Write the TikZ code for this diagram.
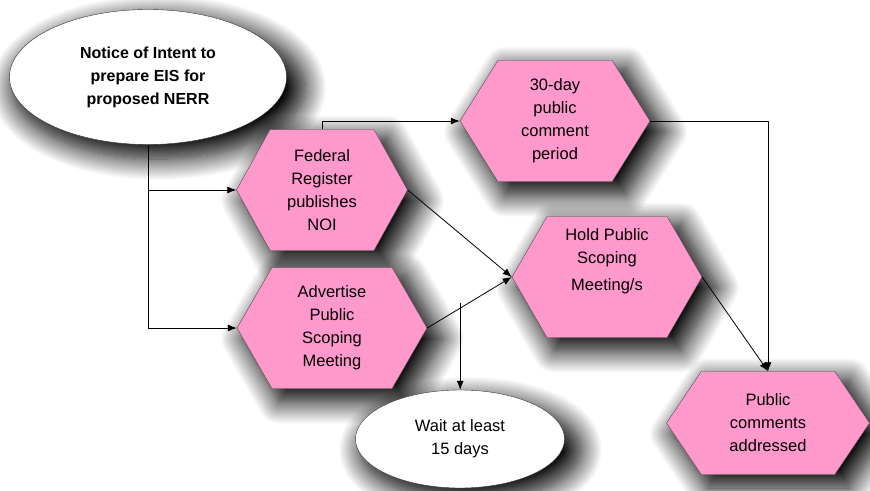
\documentclass[tikz,border=0pt]{standalone}
\usepackage{fontspec}
\setmainfont{Liberation Sans}
\usetikzlibrary{shapes.geometric,shapes.symbols,arrows.meta,shadows.blur}
\definecolor{hexpink}{RGB}{255,153,204}
\begin{document}
\begin{tikzpicture}[x=1pt,y=-1pt,line join=round,>={Latex[length=9pt,width=7pt]},
    font=\fontsize{16.5}{23}\selectfont,
    soft/.style={blur shadow={shadow xshift=10pt,shadow yshift=-10pt,shadow scale=1.06,shadow blur radius=20pt,
        shadow blur steps=20,shadow opacity=100}},
    hexa/.style={shape=signal,signal to=west and east,signal pointer angle=120,draw=black!70,fill=hexpink,
        minimum width=190pt,minimum height=121pt,inner sep=0pt,align=center,soft},
    oval/.style={ellipse,draw=black!80,fill=white,inner sep=0pt,align=center,soft},
    link/.style={->,line width=0.8pt}]
    \useasboundingbox (0,0) rectangle (870,490);
    % start ellipse
    \node[oval,minimum width=277pt,minimum height=135pt,font=\fontsize{16}{23}\selectfont\bfseries] (notice) at (148,77) {Notice of Intent to\\prepare EIS for\\proposed NERR};
    % hexagons
    \node[hexa,minimum width=171pt,signal pointer angle=122] (fed) at (322,190) {Federal\\Register\\publishes\\NOI};
    \node[hexa] (adv) at (332,328) {Advertise\\Public\\Scoping\\Meeting};
    \node[hexa,signal pointer angle=116] (day) at (555,121) {30-day\\public\\comment\\period};
    \node[hexa,label={[yshift=16pt,align=center]center:Hold Public\\Scoping\\[4pt]Meeting/s}] (hold) at (607,277) {};
    \node[hexa,minimum width=203pt,minimum height=103pt,signal pointer angle=112] (pub) at (768,423) {Public\\comments\\addressed};
    \node[oval,minimum width=209pt,minimum height=98pt] (wait) at (460,439) {Wait at least\\15 days};
    % connectors
    \draw[link] (notice.south) |- (adv.west);
    \draw[link] (notice.south |- fed.west) -- (fed.west);
    \draw[link] (fed.north) |- (day.west);
    \draw[link] (fed.east) -- (hold.west);
    \draw[link] (adv.east) -- coordinate[pos=0.39] (split) (hold.west);
    \draw[link] (split) ++(0,-5) -- (split |- wait.north);
    \draw[link] (day.east) -| (pub.north);
    \draw[link] (hold.east) -- (pub.north);
\end{tikzpicture}
\end{document}
